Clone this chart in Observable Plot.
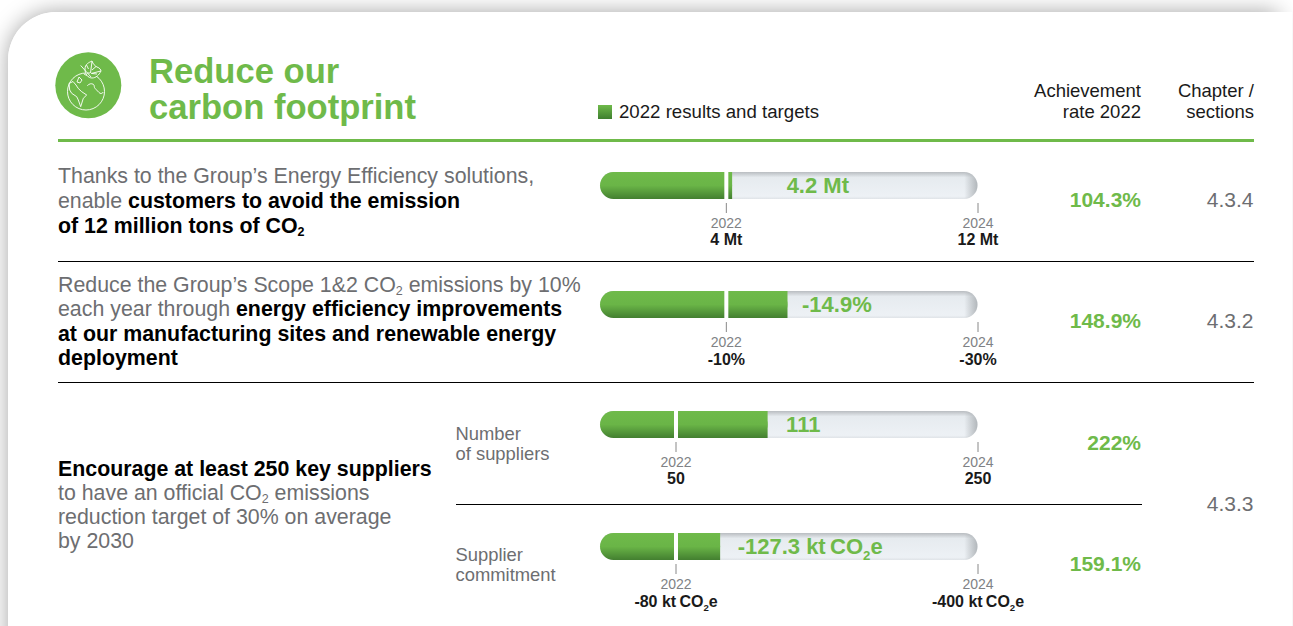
<!DOCTYPE html>
<html><head><meta charset="utf-8">
<script src="https://cdn.jsdelivr.net/npm/d3@7"></script>
<script src="https://cdn.jsdelivr.net/npm/@observablehq/plot@0.6"></script>
<style>
html,body{margin:0;padding:0;background:#fff;width:1293px;height:626px;overflow:hidden;font-family:"Liberation Sans",Arial,sans-serif}
#shadow{position:absolute;left:8px;top:12px;width:1270px;height:700px;border-top-left-radius:48px;box-shadow:0 0 22px rgba(0,0,0,.36)}
#card{position:absolute;left:8px;top:12px;width:1284px;height:700px;background:#fff;border-top-left-radius:48px}
.t{position:absolute;white-space:nowrap}
.body{font-size:21.35px;color:#6d6e71;line-height:24.5px}
.body b{color:#000}
.title{left:149px;top:54px;font-size:34.6px;line-height:35.5px;font-weight:bold;color:#6fba4a}
.head{font-size:18.5px;line-height:20.5px;color:#1a1a1a;text-align:right}
.rate{font-size:21px;font-weight:bold;color:#6fba4a;text-align:right;line-height:24px;right:152px}
.chap{font-size:21px;color:#6d6e71;text-align:right;line-height:24px;right:39.5px}
.sub{left:455.5px;font-size:18.4px;line-height:20px;color:#6d6e71}
.ln{position:absolute;height:1px;background:#000}
sub{font-size:12.5px;line-height:0;vertical-align:-3px}
.plot{position:absolute;left:560px}
</style></head><body>
<div id="shadow"></div><div id="card"></div>
<div class="t title">Reduce our<br>carbon footprint</div>
<svg style="position:absolute;left:55px;top:52px" width="67" height="67" viewBox="0 0 67 67">
<circle cx="33.3" cy="33.3" r="33" fill="#6fba4a"/>
<g fill="none" stroke="#fff" stroke-width=".9" stroke-linejoin="round">
<circle cx="31" cy="39.5" r="18.5"/>
<path d="M14 31.5l4-2 3 3.5 2.3 3.5 3.4 3.2 5 3.3-3.4 3.3-2.6 8.4-2.4-6.7-1.6-3.3-5-3.4-2-3.3z"/>
<path d="M24 25l3 3-2 3-3-1zM32.3 33.7c2-2 4-2.5 6-1.4 1.5 1 .5 3 1.7 4 1.5 1.5 3.5 4 5 5 1.3.5 2.5 0 3.3-1.3M29 22c3 2 6 3 9 2.5"/>
<path fill="#6fba4a" d="M30 17C30 12 34 10.500 37 9c1 3 3 5 5 6 3 1 4 3 4 4-2 4-5 7-9 7-4 0-7-4-7-9z"/>
<path d="M25.700 13.500L36 25M37 9.500L35.500 21M46 19l-10 2.500M31.500 13l2 4M41 14.500l-4 3.500M32 21l3 0M42 22l-5-.5"/>
</g></svg>
<div class="t" style="left:58px;top:139px;width:1196px;height:3px;background:#6fba4a"></div>
<svg style="position:absolute;left:598px;top:105px" width="14" height="14"><defs><linearGradient id="lg" x1="0" y1="0" x2="0" y2="1"><stop offset="0" stop-color="#6fba4a"/><stop offset="1" stop-color="#3f7f2f"/></linearGradient></defs><rect width="14" height="14" fill="url(#lg)"/></svg>
<div class="t" style="left:619px;top:100.500px;font-size:18.650px;line-height:21px;color:#1a1a1a">2022 results and targets</div>
<div class="t head" style="right:152px;top:81px">Achievement<br>rate 2022</div>
<div class="t head" style="right:39px;top:81px">Chapter /<br>sections</div>

<div class="t body" style="left:58px;top:163.500px;line-height:25px">Thanks to the Group’s Energy Efficiency solutions,<br>enable <b>customers to avoid the emission<br>of 12 million tons of CO<sub>2</sub></b></div>
<div class="t body" style="left:58px;top:272.500px">Reduce the Group’s Scope 1&amp;2 CO<sub>2</sub> emissions by 10%<br>each year through <b>energy efficiency improvements<br>at our manufacturing sites and renewable energy<br>deployment</b></div>
<div class="t body" style="left:58px;top:457px;line-height:24px"><b>Encourage at least 250 key suppliers</b><br>to have an official CO<sub>2</sub> emissions<br>reduction target of 30% on average<br>by 2030</div>
<div class="t sub" style="top:424px">Number<br>of suppliers</div>
<div class="t sub" style="top:545px">Supplier<br>commitment</div>
<div class="ln" style="left:58px;top:261px;width:1196px"></div>
<div class="ln" style="left:58px;top:382px;width:1196px"></div>
<div class="ln" style="left:456px;top:504px;width:686px"></div>
<div class="t chap" style="top:492px">4.3.3</div>
<div id="charts"></div>
<script>
// Chart data
const results = [4.2, 14.9, 111, 127.3];
const targets2022 = [4, 10, 50, 80];
const targets2024 = [12, 30, 250, 400];
const resultLabels = ["4.2 Mt", "-14.9%", "111", "-127.3 kt\u2009CO₂e"];
const labels2022 = ["4 Mt", "-10%", "50", "-80 kt\u2009CO₂e"];
const labels2024 = ["12 Mt", "-30%", "250", "-400 kt\u2009CO₂e"];
const tickYears = ["2022", "2024"];
const rates = ["104.3%", "148.9%", "222%", "159.1%"];
const chapters = ["4.3.4", "4.3.2", null, null];
// Layout of each row (page placement and label offset, not data)
const barTops = [172, 291, 411, 533];
const rateCenters = [200, 321, 443, 564];
const labelOffsets = [54, 14, 18, 17];
const valueLabelDy = [41.5, 42.5, 41.5, 42.5];

const GREEN = "#6fba4a";
function defs() {
  const ns = "http://www.w3.org/2000/svg";
  const d = document.createElementNS(ns, "defs");
  d.innerHTML = `
  <linearGradient id="fillGrad" x1="0" y1="0" x2="0" y2="1">
    <stop offset="0" stop-color="#6fba4a"/><stop offset=".5" stop-color="#6ab547"/><stop offset="1" stop-color="#437f30"/>
  </linearGradient>
  <linearGradient id="trackGrad" x1="0" y1="0" x2="0" y2="1">
    <stop offset="0" stop-color="#b9bdc1"/><stop offset=".2" stop-color="#e6ebef"/><stop offset=".9" stop-color="#edf1f5"/><stop offset="1" stop-color="#dfe3e7"/>
  </linearGradient>
  <linearGradient id="endGrad" x1="0" y1="0" x2="1" y2="0">
    <stop offset=".965" stop-color="#a4a9ad" stop-opacity="0"/><stop offset="1" stop-color="#a4a9ad" stop-opacity=".8"/>
  </linearGradient>`;
  const g = document.createElementNS(ns, "g");
  g.appendChild(d);
  return g;
}
// Real subscript for the ₂ in CO₂ labels
function subscript(svg) {
  const ns = "http://www.w3.org/2000/svg";
  svg.querySelectorAll("text").forEach(t => {
    const holder = t.querySelector("tspan") || t;
    const s = holder.textContent;
    if (!s.includes("₂")) return;
    const fs = parseFloat(t.getAttribute("font-size") || t.parentNode.getAttribute("font-size"));
    const drop = fs * 0.26;
    const [a, b] = s.split("₂");
    holder.textContent = a;
    const two = document.createElementNS(ns, "tspan");
    two.setAttribute("dy", drop); two.setAttribute("font-size", fs * 0.6); two.textContent = "2";
    const rest = document.createElementNS(ns, "tspan");
    rest.setAttribute("dy", -drop); rest.textContent = b;
    holder.append(two, rest);
  });
}

const host = document.getElementById("charts");
results.forEach((value, i) => {
  const t22 = targets2022[i], t24 = targets2024[i];
  const chart = Plot.plot({
    width: 480, height: 84,
    marginLeft: 40, marginRight: 62.5, marginTop: 2, marginBottom: 51,
    style: {background: "transparent", fontFamily: '"Liberation Sans",Arial,sans-serif', overflow: "visible"},
    x: {domain: [0, t24], axis: null},
    marks: [
      () => defs(),
      Plot.rectX([0], {x1: 0, x2: t24, fill: "url(#trackGrad)", rx: 13.5, insetBottom: 4}),
      Plot.rectX([0], {x1: 0, x2: t24, fill: "url(#endGrad)", rx: 13.5, insetBottom: 4}),
      Plot.rectX([0], {x1: 0, x2: value, fill: "url(#fillGrad)", rx: 13.5, insetBottom: 4}),
      Plot.rectX([0], {x1: value / 2, x2: value, fill: "url(#fillGrad)", insetBottom: 4}),
      Plot.ruleX([t22], {stroke: "#fff", strokeWidth: 4, insetBottom: 4}),
      Plot.axisX({
        ticks: [t22, t24], tickSize: 10, tickPadding: 5, stroke: "#888", strokeWidth: 1,
        color: "#808285", fontSize: 14, label: null,
        tickFormat: d => tickYears[d === t22 ? 0 : 1]
      }),
      Plot.text([value], {
        x: d => d, frameAnchor: "middle", text: () => resultLabels[i], textAnchor: "start",
        dx: labelOffsets[i], dy: -2, fill: GREEN, fontSize: 22, fontWeight: "bold"
      }),
      Plot.text([t22, t24], {
        x: d => d, frameAnchor: "bottom", dy: valueLabelDy[i], fill: "#1a1a1a", fontSize: 16, fontWeight: "bold",
        text: d => (d === t22 ? labels2022 : labels2024)[i]
      })
    ]
  });
  subscript(chart);
  chart.classList.add("plot");
  chart.style.position = "absolute";
  chart.style.left = "560px";
  chart.style.top = (barTops[i] - 2) + "px";
  host.appendChild(chart);

  const r = document.createElement("div");
  r.className = "t rate"; r.textContent = rates[i];
  r.style.top = (rateCenters[i] - 12) + "px";
  host.appendChild(r);
  if (chapters[i]) {
    const c = document.createElement("div");
    c.className = "t chap"; c.textContent = chapters[i];
    c.style.top = (rateCenters[i] - 12) + "px";
    host.appendChild(c);
  }
});
</script>
</body></html>
